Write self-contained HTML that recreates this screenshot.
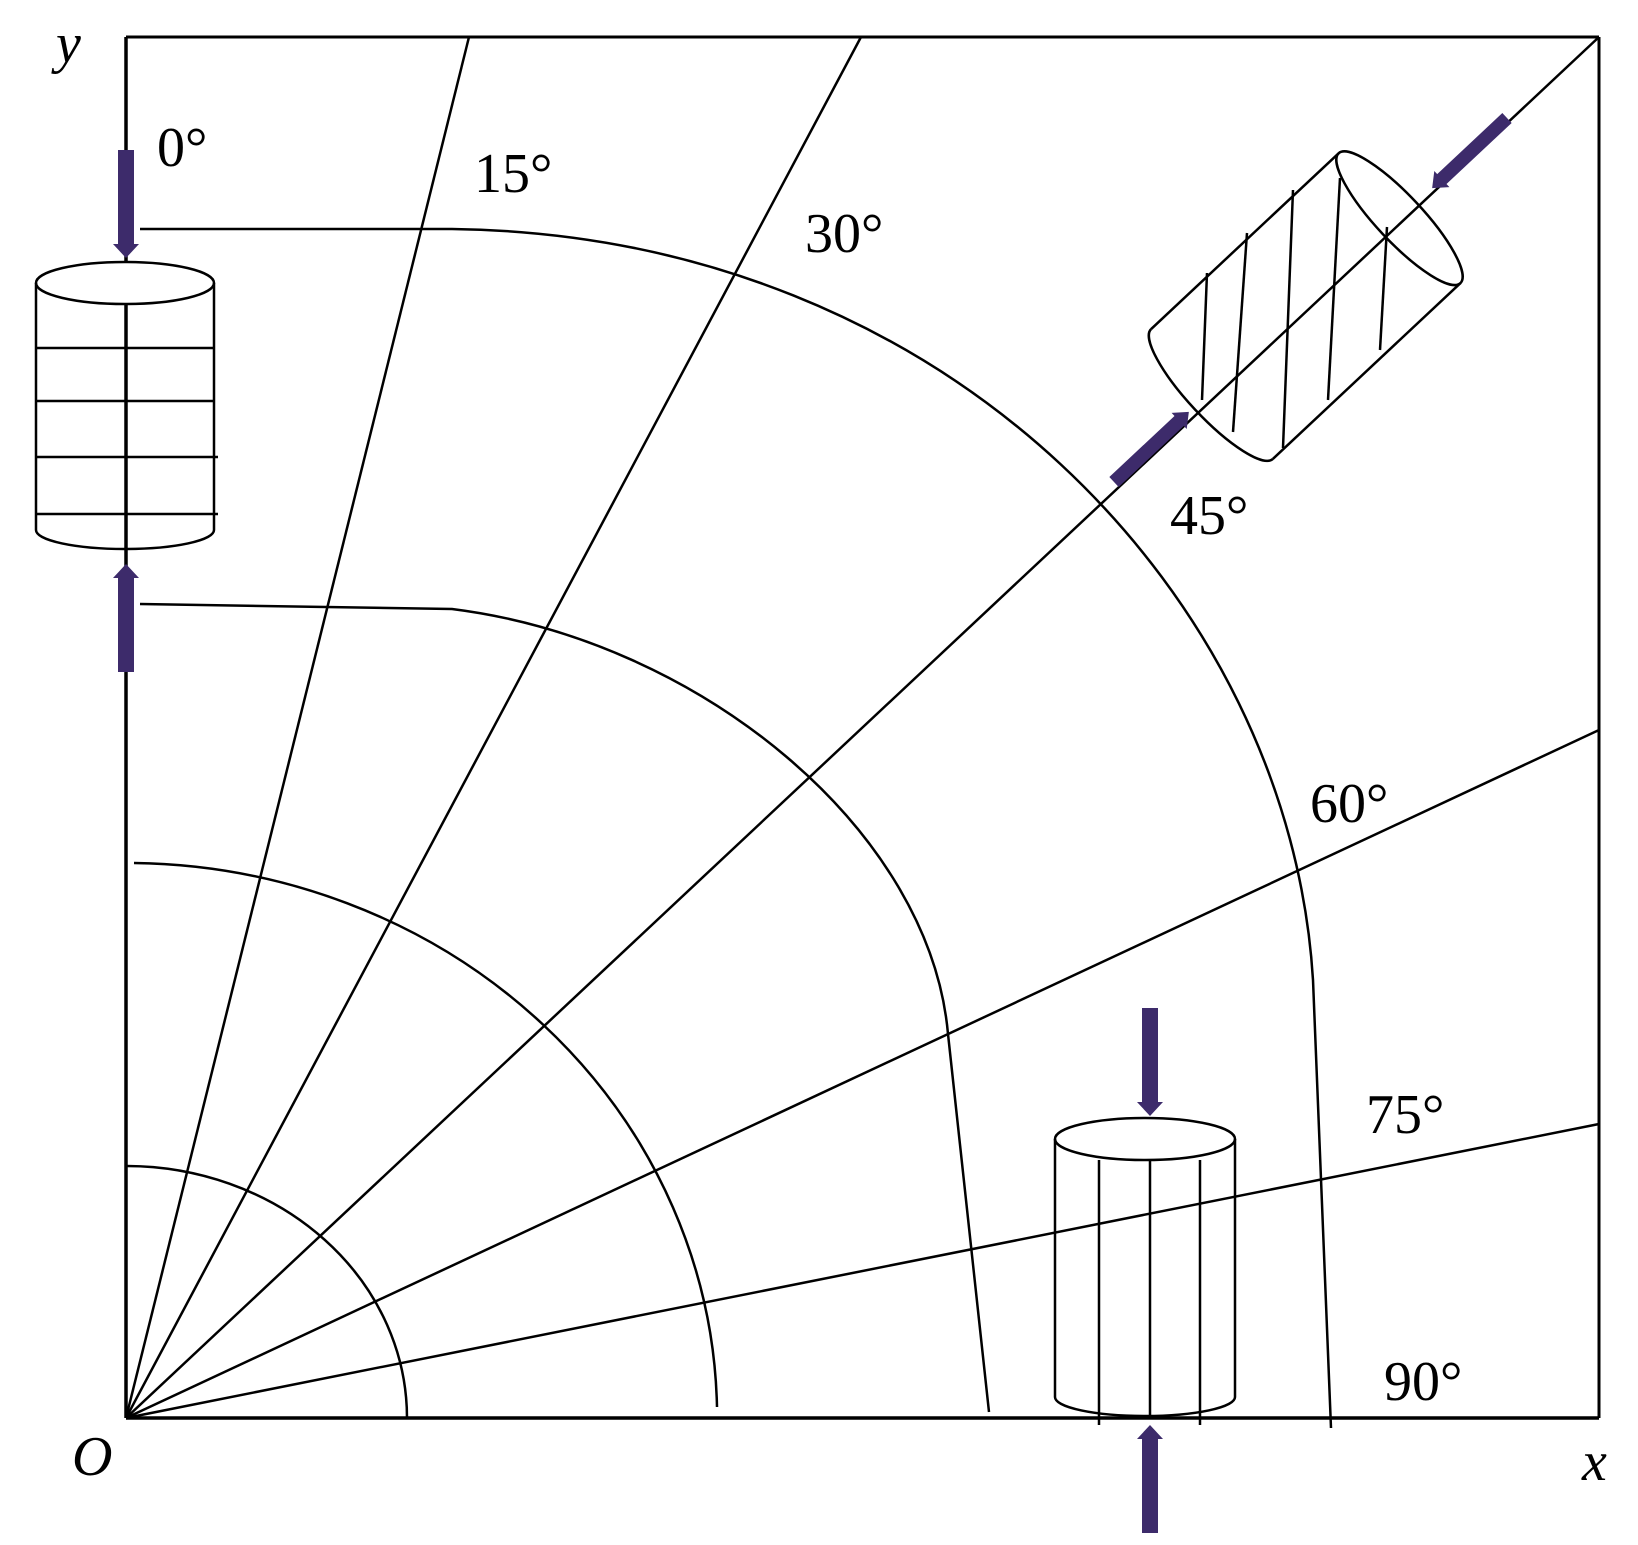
<!DOCTYPE html>
<html><head><meta charset="utf-8"><style>
html,body{margin:0;padding:0;background:#fff;}
svg{display:block;}
text{font-family:"Liberation Serif",serif;fill:#000;}
</style></head><body>
<svg width="1638" height="1545" viewBox="0 0 1638 1545" xmlns="http://www.w3.org/2000/svg">
<defs>
<g id="arr"><polygon points="0,-8 94,-8 94,-13 108,0 94,13 94,8 0,8" fill="#3d2b6b"/></g>
</defs>
<g fill="none" stroke="#000" stroke-width="2.5">
<line x1="126" y1="37" x2="1599" y2="37" stroke-width="3"/>
<line x1="1599" y1="37" x2="1599" y2="1418" stroke-width="3"/>
<line x1="126" y1="1418" x2="1599" y2="1418" stroke-width="3.5"/>
<line x1="126" y1="37" x2="126" y2="1418" stroke-width="3.5"/>
<line x1="126" y1="1418" x2="469" y2="37"/>
<line x1="126" y1="1418" x2="861" y2="37"/>
<line x1="126" y1="1418" x2="1599" y2="37"/>
<line x1="126" y1="1418" x2="1599" y2="730"/>
<line x1="126" y1="1418" x2="1599" y2="1124"/>
<path d="M140,229 L452,229 C950,235 1290,600 1313,980 L1331,1428"/>
<path d="M140,604 L452,609 C700,640 930,830 948,1034 L989,1412"/>
<path d="M134,863 A591,555 0 0 1 717,1407"/>
<path d="M126,1166 A281,252 0 0 1 407,1418"/>
<ellipse cx="125" cy="283" rx="89" ry="21" fill="#fff"/>
<line x1="36" y1="283" x2="36" y2="530"/>
<line x1="214" y1="283" x2="214" y2="530"/>
<path d="M36,530 A89,19 0 0 0 214,530"/>
<line x1="36" y1="348" x2="214" y2="348"/>
<line x1="36" y1="401" x2="214" y2="401"/>
<line x1="36" y1="457" x2="218" y2="457"/>
<line x1="36" y1="514" x2="218" y2="514"/>
<ellipse cx="1145" cy="1139" rx="90" ry="21" fill="#fff"/>
<line x1="1055" y1="1139" x2="1055" y2="1397"/>
<line x1="1235" y1="1139" x2="1235" y2="1397"/>
<path d="M1055,1397 A90,19 0 0 0 1235,1397"/>
<line x1="1099" y1="1160" x2="1099" y2="1425"/>
<line x1="1150" y1="1160" x2="1150" y2="1418"/>
<line x1="1200" y1="1160" x2="1200" y2="1425"/>
<g transform="translate(1212,394) rotate(-43.15)">
<line x1="0" y1="-89" x2="257" y2="-89"/>
<line x1="0" y1="89" x2="257" y2="89"/>
<ellipse cx="257" cy="0" rx="23" ry="89"/>
<path d="M0,-89 A23,89 0 0 0 0,89"/>
</g>
<line x1="1207" y1="273" x2="1202" y2="400"/>
<line x1="1247" y1="233" x2="1233" y2="432"/>
<line x1="1293" y1="190" x2="1283" y2="448"/>
<line x1="1340" y1="178" x2="1328" y2="400"/>
<line x1="1387" y1="227" x2="1380" y2="350"/>
</g>
<use href="#arr" transform="translate(126,150) rotate(90)"/>
<use href="#arr" transform="translate(126,672) rotate(-90)"/>
<use href="#arr" transform="translate(1150,1008) rotate(90)"/>
<use href="#arr" transform="translate(1150,1533) rotate(-90)"/>
<use href="#arr" transform="translate(1114,482) rotate(-43.15) scale(0.95,0.85)"/>
<use href="#arr" transform="translate(1507,118) rotate(136.85) scale(0.95,0.85)"/>
<g font-size="56">
<text x="56" y="62" font-style="italic">y</text>
<text x="157" y="166">0°</text>
<text x="474" y="192">15°</text>
<text x="805" y="252">30°</text>
<text x="1170" y="534">45°</text>
<text x="1310" y="822">60°</text>
<text x="1366" y="1133">75°</text>
<text x="1384" y="1400">90°</text>
<text x="72" y="1475" font-style="italic">O</text>
<text x="1582" y="1480" font-style="italic">x</text>
</g>
</svg>
</body></html>
